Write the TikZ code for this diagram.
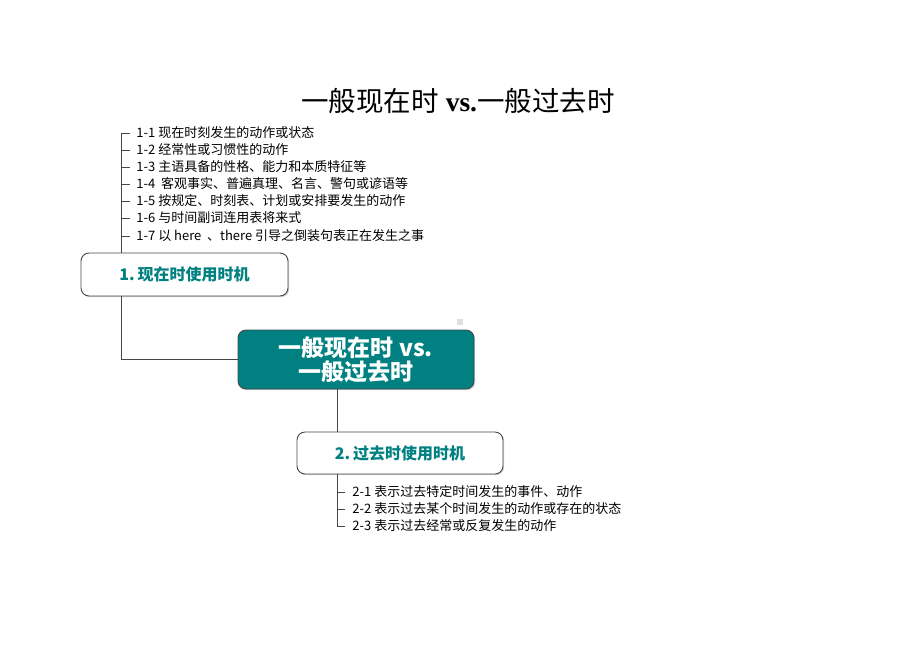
\documentclass[tikz,border=0pt]{standalone}
\usepackage{fontspec}
\setmainfont{Liberation Serif}
\newfontfamily\cjk{Noto Sans CJK SC}
\usetikzlibrary{positioning, calc, shadows}
\definecolor{tealmain}{RGB}{0,128,128}
\definecolor{boxline}{RGB}{70,70,70}
\tikzset{
  mindmap/.style={
	x=1pt, y=-1pt, % one unit is one pixel of the page
	line width=0.8pt, % thin connectors
  },
  branch/.style={draw=boxline, line width=0.8pt}, % tree lines
  topic/.style={draw=boxline, line width=0.9pt, rounded corners=8pt, fill=white,
	drop shadow={shadow xshift=1.2pt, shadow yshift=-1.2pt, opacity=0.35},
	inner sep=0pt, text=tealmain, font=\cjk\bfseries\fontsize{16}{18}\selectfont},
  core/.style={topic, fill=tealmain, text=white, align=center,
	font=\cjk\bfseries\fontsize{23}{24}\selectfont},
  item/.style={anchor=west, inner sep=0pt, font=\cjk\fontsize{13}{14}\selectfont},
}
\begin{document}
\begin{tikzpicture}[mindmap]
	  \useasboundingbox (0,0) rectangle (920,651);

	  % title
	  \node (title) at (458,101) {\fontsize{27.5}{30}\selectfont{\cjk 一般现在时} \textbf{vs.}{\cjk 一般过去时}};

	  % main boxes
	  \node[core, minimum width=236, minimum height=59] (center) at (356,359.5) {一般现在时 vs.\\一般过去时};
	  \node[topic, minimum width=207, minimum height=43] (present) at (184.5,274.5) {1.\,现在时使用时机};
	  \node[topic, minimum width=206, minimum height=42] (past) at (400,453) {2.\,过去时使用时机};
	  \fill[gray!25] (457,319) rectangle (463,325);

	  % present tense items
	  \foreach \y/\txt [count=\n] in {133/{1-1 现在时刻发生的动作或状态},
		150/{1-2 经常性或习惯性的动作},
		167/{1-3 主语具备的性格、能力和本质特征等},
		184/{1-4 \ 客观事实、普遍真理、名言、警句或谚语等},
		201/{1-5 按规定、时刻表、计划或安排要发生的动作},
		218/{1-6 与时间副词连用表将来式},
		236/{1-7 以 here \ 、there 引导之倒装句表正在发生之事}} {
		\coordinate (pj\n) at (121,\y);
		\node[item] (pi\n) at (136,\y) {\txt};
		\draw[branch, shorten >=6pt] (pj\n) -- (pi\n.west);
	  }
	  \draw[branch] (pj1) -- (present.north -| pj1);

	  % past tense items
	  \foreach \y/\txt [count=\n] in {492/{2-1 表示过去特定时间发生的事件、动作},
		509/{2-2 表示过去某个时间发生的动作或存在的状态},
		526/{2-3 表示过去经常或反复发生的动作}} {
		\coordinate (qj\n) at (337,\y);
		\node[item] (qi\n) at (352,\y) {\txt};
		\draw[branch, shorten >=7pt] (qj\n) -- (qi\n.west);
	  }
	  \draw[branch] (past.south -| qj3) -- (qj3);

	  % links between boxes
	  \draw[branch] (present.south -| pj1) |- (center.west);
	  \draw[branch] (center.south -| qj1) -- (past.north -| qj1);
\end{tikzpicture}
\end{document}
